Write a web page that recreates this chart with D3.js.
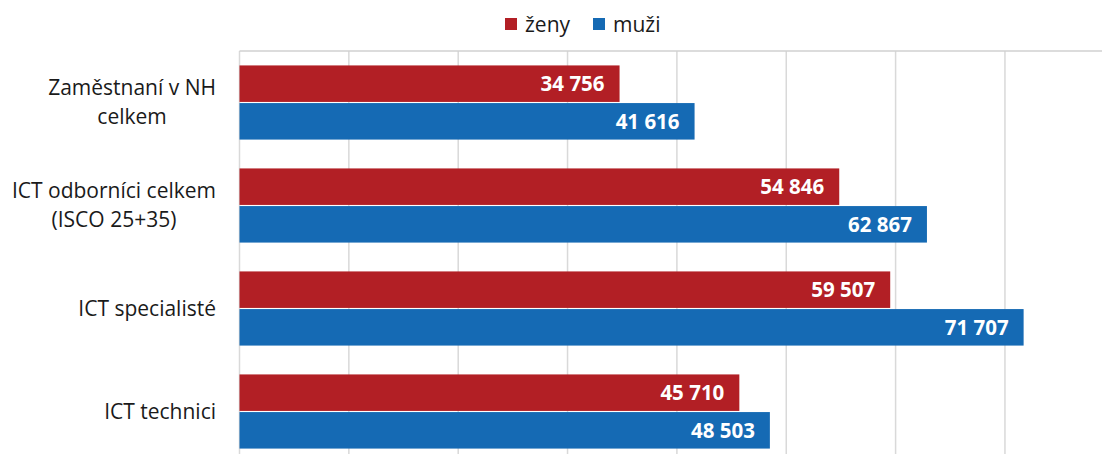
<!DOCTYPE html>
<html>
<head>
<meta charset="utf-8">
<script src="https://cdn.jsdelivr.net/npm/d3@7"></script>
<style>
  body { margin: 0; background: #fff; }
  svg { display: block; font-family: "Open Sans", sans-serif; }
</style>
</head>
<body>
<div id="chart"></div>
<script>
// data
var categories = ["Zaměstnaní v NH celkem", "ICT odborníci celkem (ISCO 25+35)", "ICT specialisté", "ICT technici"];
var categoryLines = [["Zaměstnaní v NH", "celkem"], ["ICT odborníci celkem", "(ISCO 25+35)"], ["ICT specialisté"], ["ICT technici"]];
var seriesNames = ["ženy", "muži"];
var zeny = [34756, 54846, 59507, 45710];
var muzi = [41616, 62867, 71707, 48503];
var gridTicks = [0, 10000, 20000, 30000, 40000, 50000, 60000, 70000, 80000];

var colors = { "ženy": "#b21f25", "muži": "#156ab4" };

var width = 1102, height = 454;
var margin = { top: 51, left: 239.5 };
var plotBottom = 463;

var svg = d3.select("#chart").append("svg")
  .attr("width", width)
  .attr("height", height);

var x = d3.scaleLinear().domain([0, 80000]).range([margin.left, margin.left + 8 * 109.35]);

var y = d3.scaleBand().domain(categories).range([margin.top, plotBottom])
  .paddingInner(0.28).paddingOuter(0.14);

var ySub = d3.scaleBand().domain(seriesNames).range([0, y.bandwidth()]).paddingInner(0.03);

// gridlines
svg.append("g")
  .selectAll("line")
  .data(gridTicks)
  .join("line")
  .attr("x1", d => x(d)).attr("x2", d => x(d))
  .attr("y1", margin.top).attr("y2", plotBottom)
  .attr("stroke", "#d9d9d9")
  .attr("stroke-width", 1.5);

// top border
svg.append("line")
  .attr("x1", margin.left).attr("x2", width)
  .attr("y1", margin.top).attr("y2", margin.top)
  .attr("stroke", "#d0d0d0")
  .attr("stroke-width", 1.5);

var rows = categories.map(function (c, i) {
  return { cat: c, values: [{ s: "ženy", v: zeny[i] }, { s: "muži", v: muzi[i] }] };
});

var groups = svg.append("g")
  .selectAll("g")
  .data(rows)
  .join("g")
  .attr("transform", d => "translate(0," + y(d.cat) + ")");

groups.selectAll("rect")
  .data(d => d.values)
  .join("rect")
  .attr("x", x(0))
  .attr("y", d => ySub(d.s))
  .attr("width", d => x(d.v) - x(0))
  .attr("height", ySub.bandwidth())
  .attr("fill", d => colors[d.s]);

var fmt = d => d3.format(",")(d).replace(/,/g, " ");

groups.selectAll("text")
  .data(d => d.values)
  .join("text")
  .attr("x", d => x(d.v) - 15)
  .attr("y", d => ySub(d.s) + ySub.bandwidth() / 2)
  .attr("dy", "0.36em")
  .attr("text-anchor", "end")
  .attr("fill", "#fff")
  .attr("font-weight", "bold")
  .attr("font-size", "20.5px")
  .text(d => fmt(d.v));

// category labels, centred lines in a right-aligned block
var labelRight = 216;
categories.forEach(function (c, i) {
  var lines = categoryLines[i];
  var lh = 29;
  var cy = y(c) + y.bandwidth() / 2;
  var t = svg.append("text")
    .attr("font-size", "21px")
    .attr("fill", "#1a1a1a")
    .attr("text-anchor", "middle");
  lines.forEach(function (l, j) {
    t.append("tspan")
      .attr("y", cy + (j - (lines.length - 1) / 2) * lh)
      .attr("dy", "0.35em")
      .text(l);
  });
  var maxW = 0;
  t.selectAll("tspan").each(function () {
    maxW = Math.max(maxW, this.getComputedTextLength());
  });
  t.selectAll("tspan").attr("x", labelRight - maxW / 2);
});

// legend
var legendItems = [{ s: "ženy", x: 505 }, { s: "muži", x: 593 }];
var lg = svg.append("g").selectAll("g").data(legendItems).join("g")
  .attr("transform", d => "translate(" + d.x + ",18)");
lg.append("rect").attr("width", 12).attr("height", 12).attr("fill", d => colors[d.s]);
lg.append("text")
  .attr("x", 20).attr("y", 6).attr("dy", "0.36em")
  .attr("font-size", "21px").attr("fill", "#1a1a1a")
  .text(d => d.s);
</script>
</body>
</html>
